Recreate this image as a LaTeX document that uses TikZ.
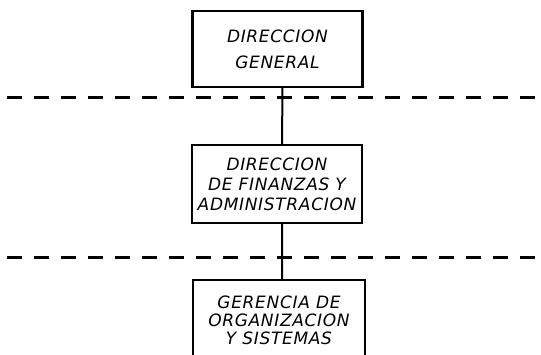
\documentclass[tikz,border=0pt]{standalone}
\usepackage{fontspec}
\newfontfamily\handfont[LetterSpace=4]{DejaVu Sans}
\begin{document}
\begin{tikzpicture}
	[x=1pt,y=-1pt,
	every node/.style={inner sep=1pt,outer sep=0},
	unit/.style={shape=rectangle,draw,line width=2.6pt,align=center,
		font=\handfont\itshape\fontsize{17}{#1}\selectfont},
	unit/.default=20,
	level/.style={line width=3pt,dash pattern=on 15pt off 12pt}]
	\def\ww{170}\def\sx{5}
	\useasboundingbox (0,0) rectangle (541,354) ;
	\clip (0,0) rectangle (541,354) ;
	\node[unit=26,minimum width=\ww pt,minimum height=76pt] (dg)  at (277.5, 49)
		{DIRECCION\\GENERAL} ;
	\node[unit=20,minimum width=\ww pt,minimum height=78pt] (dfa) at (277, 184)
		{DIRECCION\\DE FINANZAS Y\\ADMINISTRACION} ;
	\node[unit=18,minimum width=172pt,minimum height=80pt] (gos) at (279, 320)
		{GERENCIA DE\\ORGANIZACION\\Y SISTEMAS} ;
	\coordinate (l1w) at (7, 97) ;   \coordinate (l1e) at (541, 97) ;
	\coordinate (l2w) at (7, 257) ;  \coordinate (l2e) at (541, 257) ;
	\draw[level] (l1w) -- (l1e) (l2w) -- (l2e) ;
	\draw[line width=2pt]
	([xshift=\sx pt]dg.south) -- ([xshift=\sx pt]dfa.north)
	([xshift=\sx pt]dfa.south) -- ([xshift=3pt]gos.north) ;
\end{tikzpicture}
\end{document}
